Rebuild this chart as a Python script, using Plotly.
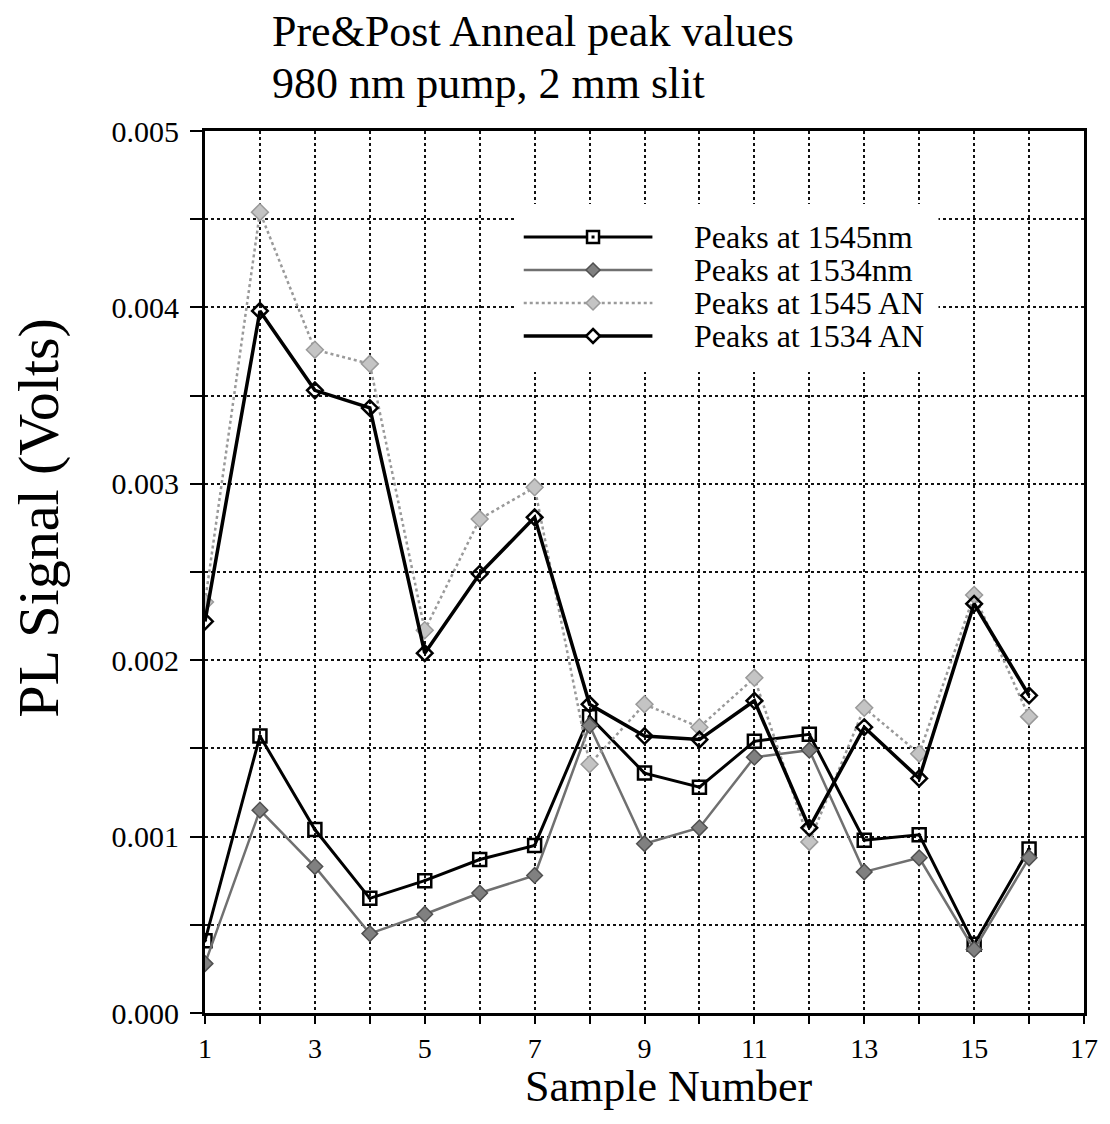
import plotly.graph_objects as go

# Sample numbers and measured PL peak signals (Volts)
samples = list(range(1, 17))
peaks_1545nm = [0.00041, 0.00157, 0.00104, 0.00065, 0.00075, 0.00087, 0.00095, 0.00168,
                0.00136, 0.00128, 0.00154, 0.00158, 0.00098, 0.00101, 0.00039, 0.00093]
peaks_1534nm = [0.00028, 0.00115, 0.00083, 0.00045, 0.00056, 0.00068, 0.00078, 0.00163,
                0.00096, 0.00105, 0.00145, 0.00149, 0.00080, 0.00088, 0.00036, 0.00088]
peaks_1545_an = [0.00233, 0.00454, 0.00376, 0.00368, 0.00217, 0.00280, 0.00298, 0.00141,
                 0.00175, 0.00162, 0.00190, 0.00097, 0.00173, 0.00147, 0.00237, 0.00168]
peaks_1534_an = [0.00222, 0.00398, 0.00353, 0.00343, 0.00204, 0.00249, 0.00281, 0.00175,
                 0.00157, 0.00155, 0.00177, 0.00105, 0.00162, 0.00133, 0.00232, 0.00180]

series_names = ["Peaks at 1545nm", "Peaks at 1534nm", "Peaks at 1545 AN", "Peaks at 1534 AN"]
x_tick_vals = [1, 3, 5, 7, 9, 11, 13, 15, 17]
y_tick_vals = [0.000, 0.001, 0.002, 0.003, 0.004, 0.005]
y_tick_text = ["0.000", "0.001", "0.002", "0.003", "0.004", "0.005"]

FONT = "Liberation Serif, Times New Roman, serif"
W, H = 1110, 1124
ML, MR, MT, MB = 205, 17, 131, 111
PW, PH = W - ML - MR, H - MT - MB


def px(xp):
    """Horizontal page pixel -> paper fraction."""
    return (xp - ML) / PW


def py(yp):
    """Vertical page pixel (from top) -> paper fraction."""
    return (H - MB - yp) / PH


# Per-series styling: line, marker
styles = [
    dict(line=dict(color="#000000", width=3),
         marker=dict(symbol="square-open-dot", size=13, color="#000000", line=dict(width=2.5))),
    dict(line=dict(color="#707070", width=2.5),
         marker=dict(symbol="diamond", size=12, color="#808080", line=dict(color="#505050", width=1.5))),
    dict(line=dict(color="#9a9a9a", width=2.5, dash="dot"),
         marker=dict(symbol="diamond", size=13, color="#c4c4c4", line=dict(color="#9a9a9a", width=1.5))),
    dict(line=dict(color="#000000", width=3.5),
         marker=dict(symbol="diamond-open", size=12, color="#000000", line=dict(width=2.5))),
]
series_values = [peaks_1545nm, peaks_1534nm, peaks_1545_an, peaks_1534_an]

fig = go.Figure()
for name, vals, st in zip(series_names, series_values, styles):
    fig.add_trace(go.Scatter(x=samples, y=vals, name=name, mode="lines+markers",
                             line=st["line"], marker=st["marker"], showlegend=False))

grid = dict(showgrid=True, gridcolor="#111111", gridwidth=2, griddash="dot")
axis_common = dict(
    showline=True, linecolor="#000000", linewidth=3, mirror=True,
    zeroline=False, ticks="outside", tickcolor="#000000", tickwidth=2,
    **grid,
)

fig.update_xaxes(
    range=[1, 17], tickvals=x_tick_vals, ticklen=8,
    tickfont=dict(family=FONT, size=28, color="#000000"),
    minor=dict(dtick=1, ticks="outside", ticklen=8, tickcolor="#000000", tickwidth=2, **grid),
    **axis_common,
)
fig.update_yaxes(
    range=[0, 0.005], tickvals=y_tick_vals, ticktext=y_tick_text, ticklen=12,
    ticklabelstandoff=5,
    tickfont=dict(family=FONT, size=30, color="#000000"),
    minor=dict(dtick=0.0005, ticks="outside", ticklen=12, tickcolor="#000000", tickwidth=2, **grid),
    **axis_common,
)

# Legend key: white panel over the grid, sample lines, symbols and labels
legend_rows = [237, 270, 303, 336]
line_x0, line_x1, sym_x, text_x = 527, 657, 597, 697
shapes = [dict(type="rect", xref="paper", yref="paper", layer="above",
               x0=px(518), x1=px(946), y0=py(372), y1=py(204),
               fillcolor="#ffffff", line=dict(width=0))]
annotations = []
diamond_path = "M 0,7 L 7,0 L 0,-7 L -7,0 Z"
for row_y, name, st in zip(legend_rows, series_names, styles):
    ln = st["line"]
    shapes.append(dict(type="line", xref="paper", yref="paper", layer="above",
                       x0=px(line_x0), x1=px(line_x1), y0=py(row_y), y1=py(row_y),
                       line=dict(color=ln["color"], width=ln["width"], dash=ln.get("dash", "solid"))))
    mk = st["marker"]
    if mk["symbol"].startswith("square"):
        shapes.append(dict(type="rect", xref="paper", yref="paper", layer="above",
                           xsizemode="pixel", ysizemode="pixel",
                           xanchor=px(sym_x), yanchor=py(row_y), x0=-6, x1=6, y0=-6, y1=6,
                           fillcolor="#ffffff", line=dict(color="#000000", width=2.5)))
        shapes.append(dict(type="rect", xref="paper", yref="paper", layer="above",
                           xsizemode="pixel", ysizemode="pixel",
                           xanchor=px(sym_x), yanchor=py(row_y), x0=-1.5, x1=1.5, y0=-1.5, y1=1.5,
                           fillcolor="#000000", line=dict(width=0)))
    else:
        is_open = mk["symbol"].endswith("open")
        shapes.append(dict(type="path", xref="paper", yref="paper", layer="above",
                           xsizemode="pixel", ysizemode="pixel",
                           xanchor=px(sym_x), yanchor=py(row_y), path=diamond_path,
                           fillcolor="#ffffff" if is_open else mk["color"],
                           line=dict(color=mk["line"].get("color", "#000000"),
                                     width=mk["line"]["width"])))
    annotations.append(dict(text=name, xref="paper", yref="paper", x=px(text_x), y=py(row_y),
                            xanchor="left", yanchor="middle", showarrow=False,
                            font=dict(family=FONT, size=32, color="#000000")))

annotations += [
    dict(text="Pre&Post Anneal peak values", xref="paper", yref="paper",
         x=px(271), y=py(32), xanchor="left", yanchor="middle",
         showarrow=False, font=dict(family=FONT, size=44, color="#000000")),
    dict(text="980 nm pump, 2 mm slit", xref="paper", yref="paper",
         x=px(271), y=py(84), xanchor="left", yanchor="middle",
         showarrow=False, font=dict(family=FONT, size=44, color="#000000")),
    dict(text="PL Signal (Volts)", xref="paper", yref="paper", textangle=-90,
         x=px(36), y=py(518), xanchor="center", yanchor="middle",
         showarrow=False, font=dict(family=FONT, size=58, color="#000000")),
    dict(text="Sample Number", xref="paper", yref="paper",
         x=px(674), y=py(1086), xanchor="center", yanchor="middle",
         showarrow=False, font=dict(family=FONT, size=44, color="#000000")),
]

fig.update_layout(
    width=W, height=H, autosize=False,
    margin=dict(l=ML, r=MR, t=MT, b=MB),
    paper_bgcolor="#ffffff", plot_bgcolor="#ffffff",
    font=dict(family=FONT, color="#000000"),
    showlegend=False,
    shapes=shapes,
    annotations=annotations,
)

fig.write_html("out.html")
